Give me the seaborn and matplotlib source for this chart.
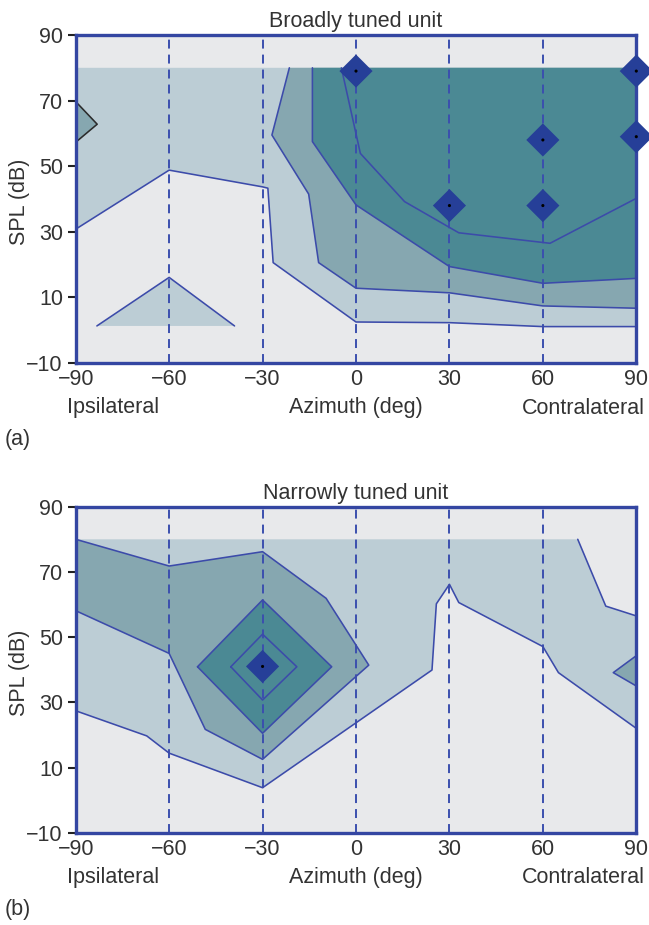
import matplotlib
matplotlib.use("Agg")
import matplotlib.pyplot as plt
import seaborn as sns
import pandas as pd

# ---------------------------------------------------------------- data
AZ_TICKS = [-90, -60, -30, 0, 30, 60, 90]
SPL_TICKS = [-10, 10, 30, 50, 70, 90]
GUIDE_AZ = [-60, -30, 0, 30, 60]
SPL_TOP = 80  # highest level tested

# Broadly tuned unit: iso-response contours (azimuth deg, SPL dB)
BROAD_C1_AZ = [-90, -60, -30, -28.3, -26.6, 0, 30, 60, 90]
BROAD_C1_SPL = [30.8, 48.8, 43.7, 43.3, 20.6, 2.5, 2.3, 1.1, 1.1]
BROAD_C2_AZ = [-21.4, -27.0, -15.2, -12.0, 0, 30, 60, 90]
BROAD_C2_SPL = [80, 59.5, 41.5, 20.6, 12.8, 11.4, 7.4, 6.7]
BROAD_C3_AZ = [-14.0, -14.0, 0, 30, 60, 90]
BROAD_C3_SPL = [80, 57.5, 38.2, 19.4, 14.3, 15.8]
BROAD_C4_AZ = [-4.7, 1.4, 15.6, 33, 62.3, 90]
BROAD_C4_SPL = [80, 53.9, 39.2, 29.7, 26.5, 40.2]
BROAD_ISLAND_AZ = [-83.2, -60, -39]
BROAD_ISLAND_SPL = [1.3, 16.1, 1.3]
BROAD_EDGE_AZ = [-90, -83.1, -90]
BROAD_EDGE_SPL = [69.7, 62.8, 57.3]
BROAD_PEAK_AZ = [0, 90, 60, 90, 30, 60]
BROAD_PEAK_SPL = [79, 79, 58, 59, 38, 38]

# Narrowly tuned unit
NARROW_C1_AZ = [-90, -67.2, -60, -30, 24.4, 25.8, 30, 33, 60, 65, 90]
NARROW_C1_SPL = [27.4, 19.7, 14.4, 3.8, 39.9, 60.2, 66.2, 60.6, 47.1, 39.1, 22.0]
NARROW_C1R_AZ = [71.2, 80.2, 90]
NARROW_C1R_SPL = [80, 59.5, 56.5]
NARROW_C2_AZ = [-90, -60, -30, -9.6, 4.1, -30, -48.4, -60, -90]
NARROW_C2_SPL = [80, 71.8, 76.2, 61.9, 41.4, 12.5, 21.7, 45.0, 58.1]
NARROW_C3_AZ = [-50.9, -30, -7.8, -30, -50.9]
NARROW_C3_SPL = [40.9, 61.4, 40.9, 20.5, 40.9]
NARROW_C4_AZ = [-40.2, -30, -19.0, -30, -40.2]
NARROW_C4_SPL = [40.9, 50.9, 40.9, 30.7, 40.9]
NARROW_EDGE_AZ = [90, 82.6, 90]
NARROW_EDGE_SPL = [44.3, 39.1, 35.0]
NARROW_PEAK_AZ = [-30]
NARROW_PEAK_SPL = [41]

# ---------------------------------------------------------------- style
BG = "#e8e9eb"
FILL1 = "#bccdd5"
FILL2 = "#86a7b0"
FILL3 = "#4b8994"
LINE = "#3c4baa"
SPINE = "#3446a2"
MARK = "#263f98"
TEXT = "#333333"
FS = 15.5

sns.set_theme(style="white")
plt.rcParams["font.family"] = ["Liberation Sans", "DejaVu Sans"]
plt.rcParams["axes.unicode_minus"] = True

W, H = 649, 925
fig = plt.figure(figsize=(W / 100, H / 100), dpi=100)


def axes_px(left, top, right, bottom):
    return fig.add_axes([left / W, 1 - bottom / H, (right - left) / W, (bottom - top) / H])


def contour_line(ax, az, spl, color=LINE, lw=1.15):
    df = pd.DataFrame({"az": az, "spl": spl})
    sns.lineplot(data=df, x="az", y="spl", sort=False, estimator=None,
                 color=color, lw=lw, ax=ax, zorder=2.2)


def peaks(ax, az, spl):
    df = pd.DataFrame({"az": az, "spl": spl})
    sns.scatterplot(data=df, x="az", y="spl", marker="D", s=285,
                    color=MARK, edgecolor="none", linewidth=0, ax=ax, zorder=4)
    sns.scatterplot(data=df, x="az", y="spl", marker="o", s=5,
                    color="black", edgecolor="none", linewidth=0, ax=ax, zorder=5)
    for coll in ax.collections:
        coll.set_clip_on(False)


def frame(ax, title, tag, height_px):
    ax.set_xlim(-90, 90)
    ax.set_ylim(-10, 90)
    ax.set_facecolor(BG)
    for g in GUIDE_AZ:
        ax.axvline(g, color="#3b4fae", lw=1.4, ls=(0, (4.6, 3.1)), zorder=2.1)
    for s in ax.spines.values():
        s.set_color(SPINE)
        s.set_linewidth(2.4)
        s.set_visible(True)
    ax.set_xticks(AZ_TICKS)
    ax.set_yticks(SPL_TICKS)
    ax.set_xticklabels([f"{t:d}".replace("-", "\u2212") for t in AZ_TICKS])
    ax.set_yticklabels([f"{t:d}".replace("-", "\u2212") for t in SPL_TICKS])
    ax.tick_params(axis="y", left=True, length=6, width=1.5, color="#222222",
                   direction="out", pad=3.2, labelsize=FS, labelcolor=TEXT)
    ax.tick_params(axis="x", bottom=True, length=0, pad=4.2, labelsize=FS, labelcolor=TEXT)
    ax.set_title(title, fontsize=FS, color=TEXT, pad=5.8)
    ax.text(-9 / 560, -50.5 / height_px, "Ipsilateral", transform=ax.transAxes,
            ha="left", va="baseline", fontsize=FS, color=TEXT)
    ax.text(1 + 8.5 / 560, -50.5 / height_px, "Contralateral", transform=ax.transAxes,
            ha="right", va="baseline", fontsize=FS, color=TEXT)
    ax.text(-71 / 560, -82.5 / height_px, tag, transform=ax.transAxes,
            ha="left", va="baseline", fontsize=FS, color=TEXT)


def axis_labels(ax, height_px):
    ax.set_xlabel("Azimuth (deg)", fontsize=FS, color=TEXT, va="baseline")
    ax.xaxis.set_label_coords(0.5, -50.5 / height_px)
    ax.set_ylabel("SPL (dB)", fontsize=FS, color=TEXT, va="baseline")
    ax.yaxis.set_label_coords(-50.7 / 560, 0.49)


# ---------------------------------------------------------------- panel (a)
ax_a = axes_px(75.7, 35, 636.3, 363)
frame(ax_a, "Broadly tuned unit", "(a)", 328)
ax_a.fill(BROAD_C1_AZ + [90, -90], BROAD_C1_SPL + [SPL_TOP, SPL_TOP], color=FILL1, lw=0, zorder=1)
ax_a.fill(BROAD_ISLAND_AZ, BROAD_ISLAND_SPL, color=FILL1, lw=0, zorder=1)
ax_a.fill(BROAD_EDGE_AZ, BROAD_EDGE_SPL, color=FILL2, lw=0, zorder=1.1)
ax_a.fill(BROAD_C2_AZ + [90], BROAD_C2_SPL + [SPL_TOP], color=FILL2, lw=0, zorder=1.1)
ax_a.fill(BROAD_C3_AZ + [90], BROAD_C3_SPL + [SPL_TOP], color=FILL3, lw=0, zorder=1.2)
for az, spl in [(BROAD_C1_AZ, BROAD_C1_SPL), (BROAD_C2_AZ, BROAD_C2_SPL),
                (BROAD_C3_AZ, BROAD_C3_SPL), (BROAD_C4_AZ, BROAD_C4_SPL),
                (BROAD_ISLAND_AZ, BROAD_ISLAND_SPL)]:
    contour_line(ax_a, az, spl)
contour_line(ax_a, BROAD_EDGE_AZ, BROAD_EDGE_SPL, color="#2b2b2b")
peaks(ax_a, BROAD_PEAK_AZ, BROAD_PEAK_SPL)
axis_labels(ax_a, 328)

# ---------------------------------------------------------------- panel (b)
ax_b = axes_px(75.7, 506.7, 636.3, 832.7)
frame(ax_b, "Narrowly tuned unit", "(b)", 326)
ax_b.fill([-90] + NARROW_C1R_AZ + NARROW_C1_AZ[::-1],
          [SPL_TOP] + NARROW_C1R_SPL + NARROW_C1_SPL[::-1], color=FILL1, lw=0, zorder=1)
ax_b.fill(NARROW_C2_AZ, NARROW_C2_SPL, color=FILL2, lw=0, zorder=1.1)
ax_b.fill(NARROW_EDGE_AZ, NARROW_EDGE_SPL, color=FILL2, lw=0, zorder=1.1)
ax_b.fill(NARROW_C3_AZ, NARROW_C3_SPL, color=FILL3, lw=0, zorder=1.2)
for az, spl in [(NARROW_C1_AZ, NARROW_C1_SPL), (NARROW_C1R_AZ, NARROW_C1R_SPL),
                (NARROW_C2_AZ, NARROW_C2_SPL), (NARROW_C3_AZ, NARROW_C3_SPL),
                (NARROW_C4_AZ, NARROW_C4_SPL), (NARROW_EDGE_AZ, NARROW_EDGE_SPL)]:
    contour_line(ax_b, az, spl)
peaks(ax_b, NARROW_PEAK_AZ, NARROW_PEAK_SPL)
axis_labels(ax_b, 326)

fig.savefig("out.png", dpi=100, facecolor="white")
